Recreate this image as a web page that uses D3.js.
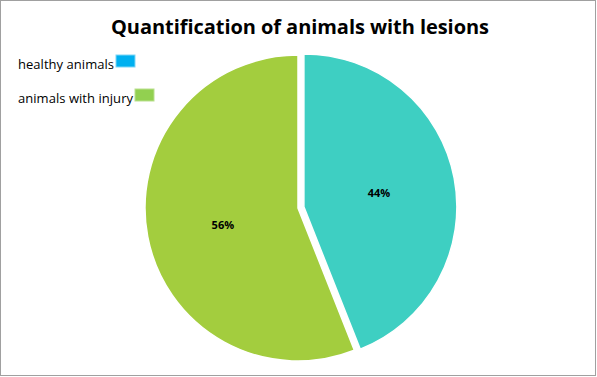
<!DOCTYPE html>
<html><head><meta charset="utf-8">
<script src="https://cdn.jsdelivr.net/npm/d3@7"></script>
<style>body{margin:0;background:#fff}svg{display:block}</style>
</head><body>
<svg id="c" width="597" height="377"></svg>
<script>
const categories = ["healthy animals", "animals with injury"];
const values = [44, 56];
const labels = ["44%", "56%"];
const legendColors = ["#00B0F0", "#92D050"];
const sliceColors = ["#3ECFC2", "#A3CD3E"];

const svg = d3.select("#c");
svg.append("rect").attr("x",0.5).attr("y",0.5).attr("width",595).attr("height",375)
  .attr("fill","#fff").attr("stroke","#a0a0a0").attr("stroke-width",1);

svg.append("text").attr("x",300).attr("y",34).attr("text-anchor","middle")
  .attr("font-family","'Open Sans', sans-serif").attr("font-weight","bold")
  .attr("font-size",20).attr("textLength",378).attr("fill","#000").text("Quantification of animals with lesions");

const cx = 298, cy = 208, r = 153;
const pie = d3.pie().sort(null).value(d=>d)(values);
const arc = d3.arc().innerRadius(0).outerRadius(r);
const g = svg.append("g").attr("transform",`translate(${cx},${cy})`);
const explode = [6, 0];
pie.forEach((d,i)=>{
  const mid = (d.startAngle+d.endAngle)/2;
  const dx = Math.sin(mid)*explode[i], dy = -Math.cos(mid)*explode[i];
  const sg = g.append("g").attr("transform",`translate(${dx},${dy})`);
  sg.append("path").attr("d",arc(d)).attr("fill",sliceColors[i]).attr("stroke","#fff").attr("stroke-width",1.5);
  const c = arc.centroid(d);
  sg.append("text").attr("x",c[0]).attr("y",c[1]+(i===0?4:7)).attr("text-anchor","middle")
    .attr("font-family","'Open Sans', sans-serif").attr("font-weight","bold").attr("font-size",11)
    .attr("fill","#000").text(labels[i]);
});

const lg = svg.append("g");
const textW = [96, 115];
categories.forEach((c,i)=>{
  const y = 69 + i*34;
  lg.append("text").attr("x",18).attr("y",y).attr("textLength",textW[i])
    .attr("font-family","'Open Sans', sans-serif").attr("font-size",13).attr("fill","#000").text(c);
  lg.append("rect").attr("x",18+textW[i]+2).attr("y",y-14).attr("width",19).attr("height",12)
    .attr("fill",legendColors[i]).attr("stroke", i===0?"#7fd6f6":"#b9e08e").attr("stroke-width",1);
});
</script>
</body></html>
